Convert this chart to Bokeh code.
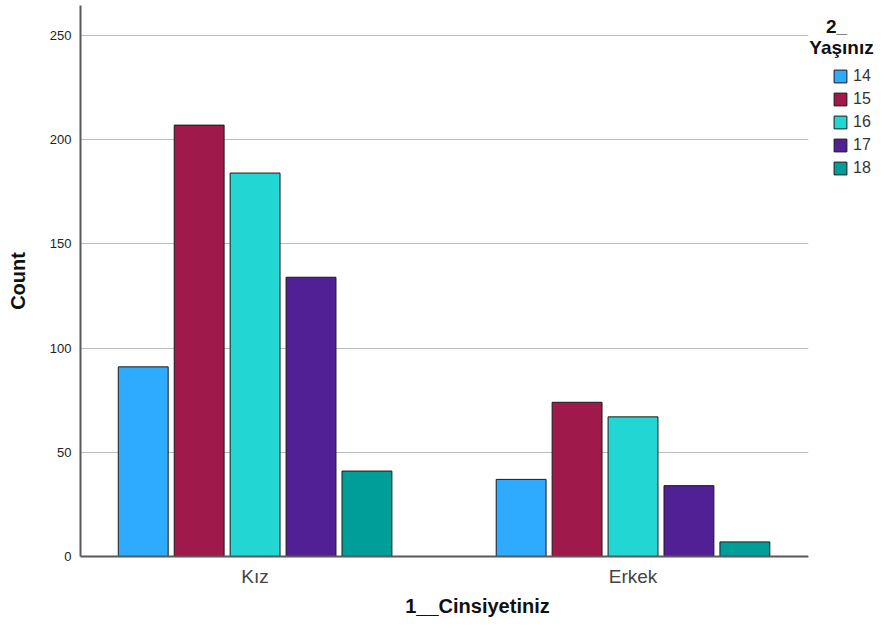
from bokeh.plotting import figure
from bokeh.models import (ColumnDataSource, FixedTicker, Legend, LegendItem, Label,
                          Range1d, BoxAnnotation)
from bokeh.transform import dodge
from bokeh.embed import file_html
from bokeh.resources import INLINE

genders = ["Kız", "Erkek"]
ages = ["14", "15", "16", "17", "18"]
counts_14 = [91, 37]
counts_15 = [207, 74]
counts_16 = [184, 67]
counts_17 = [134, 34]
counts_18 = [41, 7]
colors = ["#2EAAFF", "#A0194B", "#22D6D3", "#502094", "#009E99"]
y_ticks = [0, 50, 100, 150, 200, 250]

series = [counts_14, counts_15, counts_16, counts_17, counts_18]
xpos = [1, 2]
source = ColumnDataSource(dict(x=xpos, gender=genders,
                               **{f"a{a}": s for a, s in zip(ages, series)}))

FONT = "Liberation Sans"
X0, X_AXIS_END, X1 = 0.538, 2.464, 2.639
p = figure(width=874, height=619, output_backend="svg", toolbar_location=None,
           x_range=Range1d(X0, X1), y_range=Range1d(0, 264.4),
           min_border_left=80, min_border_right=0, min_border_top=5, min_border_bottom=63)
p.outline_line_color = None

step = 0.148
bw = 0.132
items = []
for i, (a, c) in enumerate(zip(ages, colors)):
    r = p.vbar(x=dodge("x", (i - 2) * step, range=p.x_range), top=f"a{a}", width=bw,
               source=source, fill_color=c, line_color="#1a1a1a", line_width=1)
    items.append(LegendItem(label=a, renderers=[r]))

# axes
p.xaxis.ticker = FixedTicker(ticks=xpos)
p.xaxis.bounds = (X0, X_AXIS_END)
p.xaxis.major_label_overrides = {1: genders[0], 2: genders[1]}
p.xaxis.major_tick_line_color = None
p.xaxis.major_tick_out = 0
p.xaxis.major_tick_in = 0
p.xaxis.minor_tick_line_color = None
p.xaxis.axis_line_color = "#595959"
p.xaxis.axis_line_width = 2
p.xaxis.major_label_text_font = FONT
p.xaxis.major_label_text_font_size = "19px"
p.xaxis.major_label_text_color = "#444444"
p.xaxis.major_label_standoff = 9
p.xaxis.axis_label = "1__Cinsiyetiniz"
p.xaxis.axis_label_text_font = FONT
p.xaxis.axis_label_text_font_style = "bold"
p.xaxis.axis_label_text_font_size = "20px"
p.xaxis.axis_label_text_color = "#111111"
p.xaxis.axis_label_standoff = 5

p.yaxis.ticker = FixedTicker(ticks=y_ticks)
p.yaxis.major_tick_line_color = None
p.yaxis.major_tick_out = 0
p.yaxis.major_tick_in = 0
p.yaxis.minor_tick_line_color = None
p.yaxis.axis_line_color = "#595959"
p.yaxis.axis_line_width = 2
p.yaxis.major_label_text_font = FONT
p.yaxis.major_label_text_font_size = "13px"
p.yaxis.major_label_text_color = "#222222"
p.yaxis.major_label_standoff = 9
p.yaxis.axis_label = "Count"
p.yaxis.axis_label_text_font = FONT
p.yaxis.axis_label_text_font_style = "bold"
p.yaxis.axis_label_text_font_size = "20px"
p.yaxis.axis_label_text_color = "#111111"
p.yaxis.axis_label_standoff = 18

p.xgrid.grid_line_color = None
p.ygrid.grid_line_color = "#bdbdbd"
p.ygrid.grid_line_width = 1

# keep the area to the right of the plot clear for the legend
p.add_layout(BoxAnnotation(left=X_AXIS_END, fill_color="white", fill_alpha=1,
                           line_color=None))

legend = Legend(items=items, location=(752, 379), orientation="vertical",
                glyph_width=16, glyph_height=16, label_height=16, spacing=5,
                padding=0, margin=0, label_standoff=5,
                label_text_font=FONT, label_text_font_size="16px", label_text_color="#333333",
                border_line_color=None, background_fill_alpha=0)
p.add_layout(legend)

p.add_layout(Label(x=756, y=530, x_units="screen", y_units="screen", text="2_",
                   text_font=FONT, text_font_style="bold", text_font_size="19px",
                   text_align="center", text_baseline="middle", text_color="#111111"))
p.add_layout(Label(x=761, y=509, x_units="screen", y_units="screen", text="Yaşınız",
                   text_font=FONT, text_font_style="bold", text_font_size="19px",
                   text_align="center", text_baseline="middle", text_color="#111111"))

open("out.html", "w").write(file_html(p, INLINE))
